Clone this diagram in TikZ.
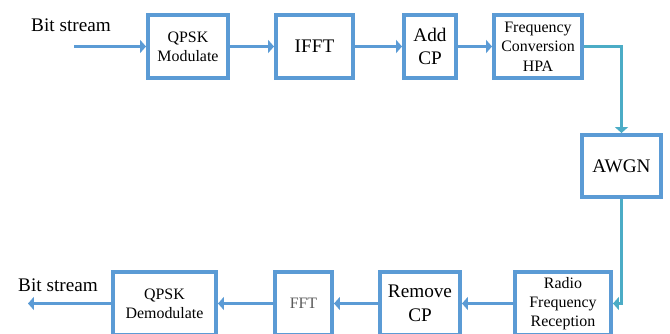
\documentclass[tikz,border=0pt]{standalone}
\usepackage{fontspec}
\setmainfont{Liberation Serif}
\newfontfamily\diagfont{Liberation Serif}
\usetikzlibrary{arrows.meta}
\definecolor{boxblue}{HTML}{5B9BD5}
\definecolor{linkteal}{HTML}{4BACC6}

\begin{document}
\begin{tikzpicture}[x=0.03cm, y=-0.03cm,
  blk/.style={draw=boxblue, line width=3.4pt, minimum height=1.89cm, inner sep=0pt, align=center},
  big/.style={font=\diagfont\fontsize{16.4}{20}\selectfont},
  small/.style={font=\diagfont\fontsize{13.6}{16.5}\selectfont},
  link/.style={draw=boxblue, line width=3.2pt, -{Triangle[length=5pt, width=11pt]}},
  tlink/.style={draw=linkteal, line width=3pt}]
  \useasboundingbox (0,0) rectangle (670,333);
  % Nodes
  \node[blk, small, minimum width=2.4cm] (qpskmod) at (188, 46.5) {QPSK\\Modulate};
  \node[blk, big, minimum width=2.31cm] (ifft) at (314.5, 46.5) {IFFT};
  \node[blk, big, minimum width=1.56cm] (addcp) at (430, 46.5) {Add\\CP};
  \node[blk, small, minimum width=2.64cm] (hpa) at (538, 46.5) {Frequency\\Conversion\\HPA};
  \node[blk, big, minimum width=2.37cm, minimum height=1.86cm] (awgn) at (621.5, 166) {AWGN};
  \node[blk, small, minimum width=2.88cm] (rfrec) at (563, 303.5) {Radio\\Frequency\\Reception};
  \node[blk, big, minimum width=2.4cm] (rmcp) at (420, 303.5) {Remove\\CP};
  \node[blk, small, minimum width=1.71cm, text=black!65] (fft) at (303.5, 303.5) {FFT};
  \node[blk, small, minimum width=3.09cm] (qpskdem) at (164.5, 303.5) {QPSK\\Demodulate};
  \node[big] (bitin) at (71, 25) {Bit stream};
  \node[big] (bitout) at (58, 285) {Bit stream};
  \coordinate (in) at (74, 46.5);
  \coordinate (out) at (28, 303.5);

  % Edges
  \draw[link] (in) -- (qpskmod);
  \draw[link] (qpskmod) -- (ifft);
  \draw[link] (ifft) -- (addcp);
  \draw[link] (addcp) -- (hpa);
  \draw[tlink, -{Triangle[length=5pt, width=11pt]}] (hpa.east) -| (awgn.north);
  \draw[tlink, -{Triangle[length=5pt, width=11pt]}] (awgn.south) |- (rfrec.east);
  \draw[link] (rfrec) -- (rmcp);
  \draw[link] (rmcp) -- (fft);
  \draw[link] (fft) -- (qpskdem);
  \draw[link] (qpskdem) -- (out);
\end{tikzpicture}
\end{document}
